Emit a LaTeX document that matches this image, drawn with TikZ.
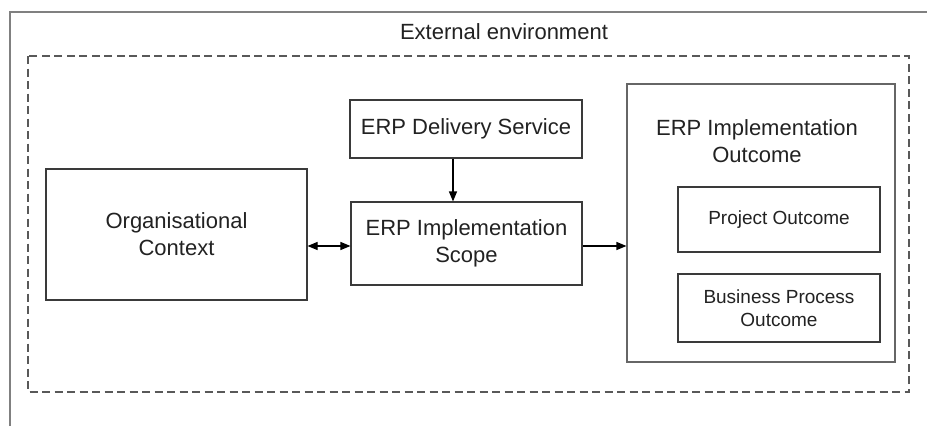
\documentclass[tikz,border=0pt]{standalone}
\usepackage{fontspec}
\setmainfont{Liberation Sans}
\usetikzlibrary{arrows.meta,calc}
\definecolor{boxline}{HTML}{3A3A3A}
\definecolor{txt}{HTML}{222222}
\begin{document}
\begin{tikzpicture}[x=1pt,y=-1pt,
  bigtext/.style={font=\fontsize{22}{27}\selectfont, text=txt, align=center},
  smalltext/.style={font=\fontsize{19}{23}\selectfont, text=txt, align=center},
  boxnode/.style={draw=boxline, line width=1.1pt, inner sep=0pt, anchor=center},
  arr/.style={line width=1.1pt, draw=black, -{Triangle[length=10pt,width=8pt]}},
  darr/.style={line width=1.1pt, draw=black, {Triangle[length=10pt,width=8pt]}-{Triangle[length=10pt,width=8pt]}}]
\useasboundingbox (0,0) rectangle (927,426);
\fill[white] (0,0) rectangle (927,426);
% outer frame (top and left edges)
\draw[gray, line width=1.6pt] (10,426) -- (10,12) -- (927,12);
\node[bigtext] (ext) at (504,32) {External environment};
% dashed environment
\draw[draw=black!65, line width=1.4pt, dash pattern=on 8pt off 4.5pt] (28,56) rectangle (909,392);
% boxes
\node[boxnode, bigtext, minimum width=261, minimum height=131] (org) at (176.5,234.5) {Organisational\\Context};
\node[boxnode, bigtext, minimum width=232, minimum height=58] (del) at (466,129) {ERP Delivery Service};
\node[boxnode, bigtext, minimum width=231, minimum height=83] (scope) at (466.5,243.5) {ERP Implementation\\Scope};
\node[boxnode, draw=black!60, minimum width=268, minimum height=278] (out) at (761,223) {};
\node[bigtext] (outt) at (757,141) {ERP Implementation\\Outcome};
\node[boxnode, smalltext, minimum width=202, minimum height=65] (proj) at (779,219.5) {Project Outcome};
\node[boxnode, smalltext, minimum width=202, minimum height=68] (bus) at (779,308) {Business Process\\Outcome};
% connectors
\coordinate (ax) at (453,0);
\coordinate (ay) at (0,246);
\draw[arr] (del.south -| ax) -- (scope.north -| ax);
\draw[darr] (org.east |- ay) -- (scope.west |- ay);
\draw[arr] (scope.east |- ay) -- (out.west |- ay);
\end{tikzpicture}
\end{document}
